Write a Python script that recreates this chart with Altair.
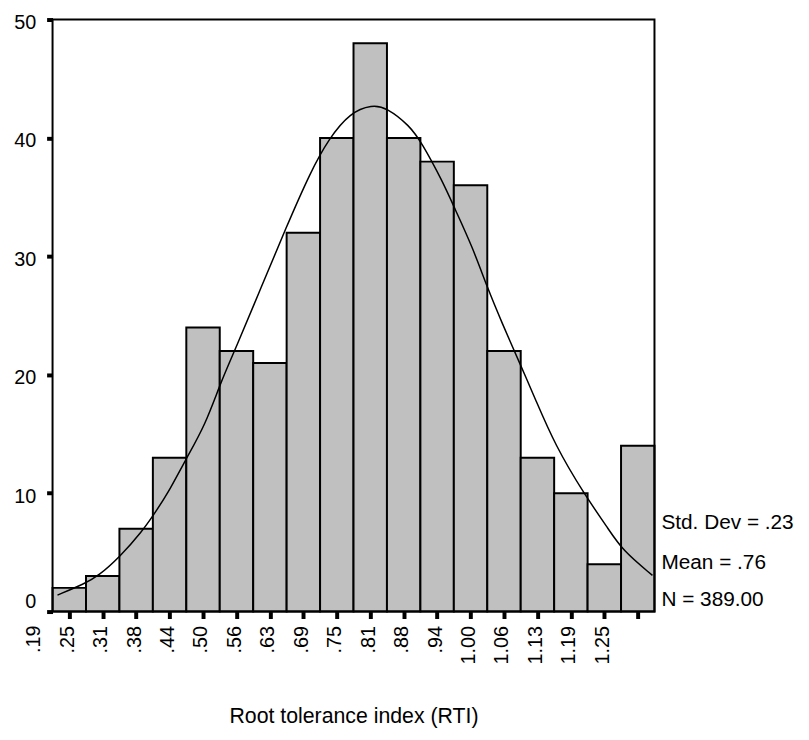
import altair as alt
import pandas as pd

# ---- data ----
bin_mid = [0.25, 0.3125, 0.375, 0.4375, 0.5, 0.5625, 0.625, 0.6875, 0.75,
           0.8125, 0.875, 0.9375, 1.0, 1.0625, 1.125, 1.1875, 1.25, 1.3125]
counts = [2, 3, 7, 13, 24, 22, 21, 32, 40, 48, 40, 38, 36, 22, 13, 10, 4, 14]
tick_labels = [".25", ".31", ".38", ".44", ".50", ".56", ".63", ".69", ".75",
               ".81", ".88", ".94", "1.00", "1.06", "1.13", "1.19", "1.25", ""]
first_label = ".19"
first_label_pos = 0.1875
y_ticks = [0, 10, 20, 30, 40, 50]

# fitted normal curve
curve_x = [0.228, 0.279, 0.304, 0.344, 0.387, 0.408, 0.433, 0.467, 0.504,
           0.534, 0.560, 0.609, 0.655, 0.701, 0.735, 0.775, 0.816, 0.843,
           0.886, 0.908, 0.948, 0.970, 1.004, 1.031, 1.059, 1.093, 1.121,
           1.158, 1.213, 1.256, 1.284, 1.340]
curve_y = [1.39, 2.36, 3.00, 4.59, 6.82, 8.21, 9.87, 12.80, 15.72, 19.48,
           22.12, 27.41, 32.41, 37.15, 39.93, 42.15, 42.80, 42.57, 41.04,
           39.65, 36.31, 34.08, 30.74, 27.40, 24.35, 20.87, 17.95, 14.05,
           9.87, 7.10, 5.15, 3.06]

stats_text = ["Std. Dev = .23", "Mean = .76", "N = 389.00"]
x_title = "Root tolerance index (RTI)"

# ---- build tables ----
half = 0.03125
bars_df = pd.DataFrame({
    "lo": [m - half for m in bin_mid],
    "hi": [m + half for m in bin_mid],
    "count": counts,
})
curve_df = pd.DataFrame({"x": curve_x, "y": curve_y})

FONT = "Liberation Sans"
W, H = 608, 598
x_domain = [bin_mid[0] - half, bin_mid[-1] + half]

label_array = "[" + ",".join("'%s'" % s for s in tick_labels) + "]"
label_expr = label_array + "[round((datum.value - %g) / %g)]" % (bin_mid[0], 0.0625)

x_scale = alt.Scale(domain=x_domain, nice=False, zero=False)
y_scale = alt.Scale(domain=[0, 50], nice=False)


def x_axis():
    return alt.Axis(
        values=bin_mid, labelExpr=label_expr, domain=False, grid=False,
        tickColor="black", tickWidth=4, tickSize=7,
        labelAngle=270, labelAlign="right", labelBaseline="middle",
        labelPadding=7, labelFont=FONT, labelFontSize=20, labelColor="black",
        labelOffset=-2, labelOverlap=False, labelBound=False,
        title=x_title, titleFont=FONT, titleFontSize=21.5,
        titleFontWeight="normal", titleColor="black", titleY=112,
        titleBaseline="alphabetic",
    )


def y_axis():
    return alt.Axis(
        values=y_ticks, format="d", domain=False, grid=False,
        tickColor="black", tickWidth=4, tickSize=6,
        labelPadding=11, labelFont=FONT, labelFontSize=20, labelColor="black",
        labelOffset={"condition": {"test": "datum.value == 0", "value": -10},
                     "value": 3},
        labelOverlap=False, labelBound=False,
        title=None,
    )


bars = alt.Chart(bars_df).mark_rect(
    fill="#C0C0C0", stroke="black", strokeWidth=2
).encode(
    x=alt.X("lo:Q", scale=x_scale, axis=x_axis()),
    x2="hi:Q",
    y=alt.Y("count:Q", scale=y_scale, axis=y_axis()),
    y2=alt.datum(0),
)

curve = alt.Chart(curve_df).mark_line(
    color="black", strokeWidth=1.5, interpolate="basis"
).encode(
    x=alt.X("x:Q", scale=x_scale, axis=x_axis()),
    y=alt.Y("y:Q", scale=y_scale, axis=y_axis()),
)

first = alt.Chart(pd.DataFrame({"v": [first_label_pos], "t": [first_label]})).mark_text(
    angle=270, align="right", baseline="middle", font=FONT, fontSize=20,
    color="black", dx=0, dy=-2
).encode(
    x=alt.X("v:Q", scale=x_scale, axis=x_axis()),
    y=alt.value(H + 14),
    text="t:N",
)

stat_layers = []
for txt, py in zip(stats_text, [515, 555.5, 592.5]):
    stat_layers.append(
        alt.Chart(pd.DataFrame({"t": [txt]})).mark_text(
            align="left", baseline="alphabetic", font=FONT, fontSize=21,
            color="black"
        ).encode(x=alt.value(W + 7), y=alt.value(py), text="t:N")
    )

frame = alt.Chart(pd.DataFrame({"a": [0]})).mark_rect(
    fill=None, stroke="black", strokeWidth=2
).encode(
    x=alt.value(0), x2=alt.value(W), y=alt.value(0), y2=alt.value(H)
)

chart = alt.layer(bars, curve, first, *stat_layers, frame).properties(
    width=W, height=H,
    autosize=alt.AutoSizeParams(type="none"),
    padding={"left": 45, "top": 8, "right": 148, "bottom": 118},
    background="white",
).configure_view(
    stroke=None, fill="white"
).configure_axis(
    labelOverlap=False
)

chart.save("out.html", embed_options={"renderer": "svg", "actions": False})
